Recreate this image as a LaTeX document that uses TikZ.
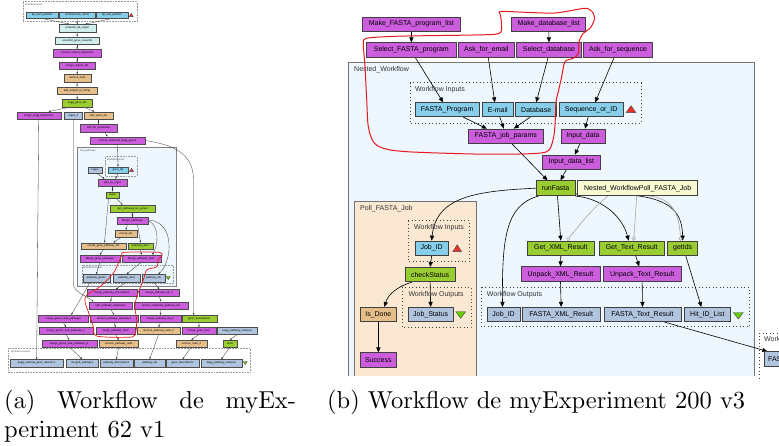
\documentclass[tikz,border=0pt]{standalone}
\usepackage{fontspec}
\usetikzlibrary{arrows.meta}
\newfontfamily\diafont{Liberation Sans}
\font\capfnt=cmr10 at 24.5pt
\definecolor{cmag}{HTML}{CC5EDE}
\definecolor{cin}{HTML}{87CEEB}
\definecolor{cout}{HTML}{B0C4DE}
\definecolor{cgreen}{HTML}{9ACD32}
\definecolor{ctan}{HTML}{E5BE8A}
\definecolor{cyel}{HTML}{FAFAD2}
\definecolor{cteal}{HTML}{D1EEEE}
\definecolor{cnest}{HTML}{EEF6FE}
\definecolor{cpoll}{HTML}{FBE8D2}
\definecolor{cred}{HTML}{E8302A}
\definecolor{ctrig}{HTML}{66CC00}
\definecolor{cpen}{HTML}{E8191C}
\pgfdeclarelayer{back}
\pgfdeclarelayer{mid}
\pgfsetlayers{back,mid,main}
\newcommand{\mkbox}[7]{\node[#1, minimum width={(#5)-(#3)}, minimum height={(#6)-(#4)}] (#2) at ({((#3)+(#5))/2},{((#4)+(#6))/2}) {#7};}
\newcommand{\uptri}[4]{\draw[fill=cred, draw=black!70, line width=0.4pt] ({#1-#3/2},{#2+#4/2}) -- ({#1+#3/2},{#2+#4/2}) -- ({#1},{#2-#4/2}) -- cycle;}
\newcommand{\dntri}[4]{\draw[fill=ctrig, draw=black!70, line width=0.4pt] ({#1-#3/2},{#2-#4/2}) -- ({#1+#3/2},{#2-#4/2}) -- ({#1},{#2+#4/2}) -- cycle;}
\begin{document}
\begin{tikzpicture}[x=1pt,y=-1pt,
  nb/.style={draw=black!75, line width=0.7pt, inner sep=0pt, font=\diafont\fontsize{7}{8}\selectfont, text=black},
  mg/.style={nb, fill=cmag}, ib/.style={nb, fill=cin}, ob/.style={nb, fill=cout},
  gb/.style={nb, fill=cgreen}, tb/.style={nb, fill=ctan}, yb/.style={nb, fill=cyel},
  sn/.style={draw=black!70, line width=0.35pt, inner sep=0pt, font=\diafont\fontsize{2.7}{3}\selectfont, text=black},
  smg/.style={sn, fill=cmag}, sib/.style={sn, fill=cin}, sob/.style={sn, fill=cout},
  sgb/.style={sn, fill=cgreen}, stb/.style={sn, fill=ctan}, steal/.style={sn, fill=cteal},
  ar/.style={-{Triangle[length=5pt,width=4.2pt]}, line width=0.6pt, black},
  sar/.style={-{Triangle[length=1.8pt,width=1.5pt]}, line width=0.3pt, black!80},
  ctl/.style={-{Circle[open,length=4pt,width=4pt]}, line width=0.6pt, black!35},
  dotb/.style={line width=0.9pt, black!75, dash pattern=on 0.9pt off 2.6pt},
  sdot/.style={line width=0.4pt, black!40, dash pattern=on 0.45pt off 1.1pt},
  lab/.style={font=\diafont\fontsize{7}{8}\selectfont, text=black!80, anchor=west, inner sep=0pt},
  slab/.style={font=\diafont\fontsize{2.4}{3}\selectfont, text=black!70, anchor=west, inner sep=0pt},
  cbord/.style={draw=black!55, line width=0.9pt},
  pen/.style={cpen, line width=1pt}]
\useasboundingbox (0,0) rectangle (779,446);

% ================= (b) containers =================
\begin{pgfonlayer}{back}
\fill[cnest] (348.3,62.3) rectangle (754,376);
\draw[cbord] (348.3,376) -- (348.3,62.3) -- (754,62.3) -- (754,376);
\fill[cpoll] (354.3,201) rectangle (476.7,376);
\draw[cbord] (354.3,376) -- (354.3,201) -- (476.7,201) -- (476.7,376);
\draw[dotb] (410,82.7) rectangle (641,123.3);
\draw[dotb] (408.3,220.7) rectangle (469.3,261.7);
\draw[dotb] (402.3,287.3) rectangle (471,327.3);
\draw[dotb] (481.7,287.3) rectangle (749,326.7);
\draw[dotb] (795,333.3) -- (759,333.3) -- (759,380);
% (a) containers
\draw[sdot] (23.3,1.7) rectangle (136.7,21.7);
\fill[cnest] (77.3,147.3) rectangle (176,286);
\draw[draw=black!50, line width=0.5pt] (77.3,147.3) rectangle (176,286);
\draw[sdot] (105,156.7) rectangle (136.7,176);
\draw[sdot] (81.7,265) rectangle (173.3,283.3);
\draw[sdot] (8.3,348.3) rectangle (250,372);
\end{pgfonlayer}

\node[lab] (lnest) at (354,69.5) {Nested\_Workflow};
\node[lab] (lwi) at (415,89.7) {Workflow Inputs};
\node[lab] (lpoll) at (360,208.3) {Poll\_FASTA\_Job};
\node[lab] (lpwi) at (414,227.3) {Workflow Inputs};
\node[lab] (lpwo) at (408.3,294.3) {Workflow Outputs};
\node[lab] (lnwo) at (486.7,294.3) {Workflow Outputs};
\node[lab] (lowo) at (764,340) {Workflow Outputs};

% ================= (b) nodes =================
\mkbox{mg}{mfpl}{362}{17.3}{460.7}{31}{Make\_FASTA\_program\_list}
\mkbox{mg}{mdl}{511.7}{17.3}{585.7}{31}{Make\_database\_list}
\mkbox{mg}{sfp}{366.7}{42.7}{456}{57.3}{Select\_FASTA\_program}
\mkbox{mg}{afe}{458.3}{42.7}{514.3}{57.3}{Ask\_for\_email}
\mkbox{mg}{sdb}{516.3}{42.7}{581.7}{57.3}{Select\_database}
\mkbox{mg}{afs}{583.3}{42.7}{652.7}{57.3}{Ask\_for\_sequence}
\mkbox{ib}{fprog}{415}{102.7}{479.3}{116.7}{FASTA\_Program}
\mkbox{ib}{email}{482.3}{102.7}{513.3}{116.7}{E-mail}
\mkbox{ib}{dbase}{515.7}{102.7}{556.7}{116.7}{Database}
\mkbox{ib}{seqid}{559}{102.7}{623.3}{116.7}{Sequence\_or\_ID}
\mkbox{mg}{fjp}{468.3}{129}{543.3}{143.3}{FASTA\_job\_params}
\mkbox{mg}{indata}{561}{129}{605}{143.3}{Input\_data}
\mkbox{mg}{idl}{542.7}{155}{600}{169.3}{Input\_data\_list}
\mkbox{gb}{rf}{536}{180.7}{575}{195.7}{runFasta}
\mkbox{yb}{nwp}{577.7}{180.7}{697.7}{195.7}{Nested\_WorkflowPoll\_FASTA\_Job}
\mkbox{ib}{jidin}{415}{241}{448.3}{255.3}{Job\_ID}
\mkbox{gb}{cs}{405.3}{267.3}{455}{281.7}{checkStatus}
\mkbox{ob}{jst}{408}{307.3}{453.3}{321.7}{Job\_Status}
\mkbox{tb}{isd}{360}{307.3}{396.7}{321.7}{Is\_Done}
\mkbox{mg}{succ}{360}{352.7}{396.7}{367.3}{Success}
\mkbox{gb}{gxml}{527.3}{241}{594.3}{255.3}{Get\_XML\_Result}
\mkbox{gb}{gtxt}{599}{241}{664.3}{255.3}{Get\_Text\_Result}
\mkbox{gb}{gids}{667.7}{241}{697.7}{255.3}{getIds}
\mkbox{mg}{uxml}{521}{266.7}{600}{281.7}{Unpack\_XML\_Result}
\mkbox{mg}{utxt}{603.3}{266.7}{681}{281.7}{Unpack\_Text\_Result}
\mkbox{ob}{jidout}{487}{307.3}{520}{321.7}{Job\_ID}
\mkbox{ob}{fxml}{522.3}{307.3}{600}{321.7}{FASTA\_XML\_Result}
\mkbox{ob}{ftxt}{604}{307.3}{681}{321.7}{FASTA\_Text\_Result}
\mkbox{ob}{hil}{684}{307.3}{730.7}{321.7}{Hit\_ID\_List}
\node[ob, anchor=west, inner xsep=3.5pt, minimum height=15pt] (fout) at (764.3,359.2) {FASTA\_Text\_Result};
\uptri{631}{109.2}{10}{7}
\uptri{457.2}{248.2}{9}{7}
\dntri{460.7}{315}{10}{6.5}
\dntri{738.3}{315.8}{10}{6.5}

% ================= (b) connectors =================
\begin{pgfonlayer}{mid}
\draw[ar] (mfpl) -- (sfp);
\draw[ar] (mdl) -- (sdb);
\draw[ar] ([xshift=4pt]sfp.south) -- ([xshift=-4pt]fprog.north);
\draw[ar] ([xshift=2pt]afe.south) -- ([xshift=-3pt]email.north);
\draw[ar] ([xshift=-1pt]sdb.south) -- (dbase.north);
\draw[ar] ([xshift=-4pt]afs.south) -- ([xshift=4pt]seqid.north);
\draw[ar] ([xshift=16pt]fprog.south) -- ([xshift=-19pt]fjp.north);
\draw[ar] ([xshift=2pt]email.south) -- ([xshift=-2pt]fjp.north);
\draw[ar] ([xshift=-6pt]dbase.south) -- ([xshift=8pt]fjp.north);
\draw[ar] ([xshift=-3pt]seqid.south) -- ([xshift=2pt]indata.north);
\draw[ar] ([xshift=-3pt]indata.south) -- ([xshift=3.5pt]idl.north);
\draw[ar] ([xshift=6pt]fjp.south) -- ([xshift=-8pt]rf.north);
\draw[ar] ([xshift=-5pt]idl.south) -- ([xshift=5pt]rf.north);
\draw[ar] (rf.west) .. controls (475,191) and (436,197) .. (jidin.north);
\draw[ar] ([xshift=3pt]rf.south west) .. controls (505,205) and (502,240) .. ([xshift=-1pt]jidout.north);
\draw[ar] ([xshift=2pt]rf.south) -- (gxml.north);
\draw[ar] (rf.south east) .. controls (600,198) and (622,215) .. ([xshift=-3pt]gtxt.north);
\draw[ar] ([yshift=2pt]rf.south east) .. controls (660,191) and (682,203) .. (gids.north);
\draw[ctl] ([xshift=-30pt]nwp.south) .. controls (590,212) .. ([xshift=6pt]gxml.north);
\draw[ctl] ([xshift=-1pt]nwp.south) -- ([xshift=2pt]gtxt.north);
\draw[ctl] ([xshift=12pt]nwp.south) .. controls (672,199) and (679,212) .. ([xshift=-2pt]gids.north);
\draw[ar] (gxml.south) -- (uxml.north);
\draw[ar] (uxml.south) -- (fxml.north);
\draw[ar] ([xshift=4pt]gtxt.south) -- ([xshift=-3pt]utxt.north);
\draw[ar] (utxt.south) -- (ftxt.north);
\draw[ar] ([xshift=3pt]gids.south) -- ([xshift=-6pt]hil.north);
\draw[ar] ([xshift=22pt]ftxt.south) -- ([xshift=3pt]fout.north west);
\draw[ar] (jidin.south) -- (cs.north);
\draw[ar] ([xshift=-18pt]cs.south) .. controls (396,287) and (388,295) .. ([xshift=6pt]isd.north);
\draw[ar] (cs.south) -- (jst.north);
\draw[ar] (isd.south) -- (succ.north);
\end{pgfonlayer}

% ================= (a) nodes =================
\node[slab] (alwi) at (25,4.6) {Workflow Inputs};
\mkbox{sib}{qsp}{26}{11.7}{58.3}{18.3}{qtl\_start\_position}
\mkbox{sib}{chr}{59.3}{11.7}{95}{18.3}{chromosome\_name}
\mkbox{sib}{qep}{96}{11.7}{127.7}{18.3}{qtl\_end\_position}
\uptri{131.2}{15}{4}{3.2}
\mkbox{steal}{eqr}{59}{24.3}{95.7}{31.7}{ensembl\_qtl\_region}
\mkbox{steal}{ege}{55}{36.7}{99.3}{44}{ensembl\_gene\_ensembl}
\mkbox{smg}{rud}{53.3}{49.3}{101}{56.7}{remove\_uniprot\_duplicates}
\mkbox{smg}{mui}{59.3}{62.3}{95}{69.3}{merge\_uniprot\_ids}
\mkbox{stb}{rmn}{64}{74.3}{90.7}{81.7}{remove\_nulls}
\mkbox{stb}{aus}{57.3}{86.7}{96.7}{94.3}{add\_uniprot\_to\_string}
\mkbox{sgb}{kgi}{62.3}{99.3}{92.3}{106.7}{kegg\_gene\_ids}
\mkbox{smg}{mkr}{16.7}{111.7}{60.7}{119.3}{merge\_kegg\_references}
\mkbox{sob}{rxb}{64.3}{111.7}{82.3}{119.3}{regex\_2}
\mkbox{stb}{sgi}{84}{111.7}{112.7}{119.3}{split\_gene\_ids}
\mkbox{smg}{sfd}{80}{124.3}{116.7}{131.7}{split\_for\_duplicates}
\mkbox{smg}{rdk}{90}{136.7}{145}{144.3}{remove\_duplicate\_kegg\_genes}
\node[slab] (algp) at (80,151) {Get\_pathways};
\node[slab] (algwi) at (107,159.4) {Workflow Inputs};
\mkbox{sob}{rgx}{88.3}{166.7}{101.7}{173.3}{regex}
\mkbox{sib}{gid}{107.7}{166.7}{128.3}{173.3}{gene\_ids}
\uptri{131.5}{170}{4}{3.2}
\mkbox{smg}{sbr}{98.3}{179}{126.7}{186}{split\_by\_regex}
\mkbox{sgb}{base}{106}{191.7}{119}{198.3}{base}
\mkbox{sgb}{gpg}{110}{205}{155}{211.7}{get\_pathways\_by\_genes}
\mkbox{smg}{mp}{116.7}{217.3}{148.3}{224.3}{Merge\_pathways}
\mkbox{stb}{ci}{115}{230}{136.7}{236.7}{concat\_ids}
\mkbox{stb}{cgp}{81}{242.7}{126}{249.3}{concat\_gene\_pathway\_ids}
\mkbox{sgb}{pd}{127.7}{242.7}{153.3}{249.3}{pathway\_desc}
\mkbox{smg}{mgp}{80}{255}{120}{262}{Merge\_gene\_pathways}
\mkbox{smg}{mpd}{121.7}{255}{161}{262}{Merge\_pathway\_desc}
\node[slab] (algwo) at (83,268) {Workflow Outputs};
\mkbox{sob}{pg}{82.7}{274.3}{110}{281.7}{pathway\_genes}
\mkbox{sob}{pdo}{113.3}{274.3}{140}{281.7}{pathway\_desc}
\mkbox{sob}{pio}{141.7}{274.3}{165}{281.7}{pathway\_ids}
\dntri{168.3}{278}{4}{3}
\mkbox{smg}{mpds}{87.3}{289.3}{136.7}{296}{merge\_pathway\_descriptions}
\mkbox{smg}{mpia}{139.3}{289.3}{179.3}{296}{merge\_pathway\_ids\_1}
\mkbox{smg}{spd}{89.3}{301.7}{131.7}{309}{split\_pathway\_duplicates}
\mkbox{smg}{rdpi}{134.3}{301.7}{187.7}{309}{remove\_duplicate\_pathway\_ids}
\mkbox{smg}{mgap}{38.3}{315}{88.3}{322.3}{merge\_genes\_and\_pathways}
\mkbox{smg}{rpd}{90}{315}{138.3}{322.3}{remove\_pathway\_duplicates}
\mkbox{smg}{mpib}{140}{315}{180.7}{322.3}{merge\_pathway\_ids\_2}
\mkbox{sgb}{gd}{181.7}{315}{216.7}{321.7}{gene\_descriptions}
\mkbox{smg}{mgapb}{39.3}{327.3}{92.7}{334.3}{merge\_genes\_and\_pathways\_2}
\mkbox{smg}{mpdesc}{96}{327.3}{135}{334.3}{merge\_pathway\_desc}
\mkbox{stb}{rpnb}{137.3}{327.3}{180}{334.3}{remove\_pathway\_nulls\_2}
\mkbox{smg}{mgd}{181.7}{327.3}{216}{334.3}{merge\_gene\_desc}
\mkbox{sob}{kpr}{217.3}{327.3}{257.3}{334.3}{kegg\_pathway\_releases}
\mkbox{smg}{mgapc}{41.7}{340}{96.7}{346.7}{merge\_genes\_and\_pathways\_3}
\mkbox{stb}{rpn}{99.3}{340}{138.3}{346.7}{remove\_pathway\_nulls}
\mkbox{stb}{rnc}{176}{340}{206.7}{346.7}{remove\_nulls\_3}
\mkbox{sgb}{tools}{223.3}{340}{236.7}{346.7}{tools}
\node[slab] (alwo) at (11,352.3) {Workflow Outputs};
\mkbox{sob}{oa}{10}{359.3}{63.3}{366.7}{kegg\_external\_gene\_reference}
\mkbox{sob}{ob}{66}{359.3}{98.3}{366.7}{merged\_pathways}
\mkbox{sob}{oc}{100}{359.3}{132.7}{366.7}{pathway\_descriptions}
\mkbox{sob}{od}{134.3}{359.3}{165}{366.7}{pathway\_ids}
\mkbox{sob}{oe}{166}{359.3}{199.3}{366.7}{gene\_descriptions}
\mkbox{sob}{of}{201}{359.3}{241.7}{366.7}{kegg\_pathway\_releases}
\dntri{245.3}{363}{4}{3}

% ================= (a) connectors =================
\begin{pgfonlayer}{mid}
\draw[sar] (qsp.south) -- ([xshift=-8pt]eqr.north);
\draw[sar] (chr.south) -- (eqr.north);
\draw[sar] (qep.south) -- ([xshift=8pt]eqr.north);
\draw[sar] (eqr.south) -- (ege.north);
\draw[sar] (ege.south) -- (rud.north);
\draw[sar] (rud.south) -- (mui.north);
\draw[sar] (mui.south) -- (rmn.north);
\draw[sar] (rmn.south) -- (aus.north);
\draw[sar] (aus.south) -- (kgi.north);
\draw[sar] ([xshift=-6pt]kgi.south) -- ([xshift=10pt]mkr.north);
\draw[sar] ([xshift=6pt]kgi.south) -- ([xshift=-4pt]sgi.north);
\draw[sar] (sgi.south) -- (sfd.north);
\draw[sar] ([xshift=6pt]sfd.south) -- ([xshift=-10pt]rdk.north);
\draw[sar] (rdk.south) -- (gid.north);
\draw[sar] (rdk.east) .. controls (176,145) and (193.5,155) .. (193.5,180) -- ([xshift=-5.7pt]gd.north);
\draw[sar] (mkr.south) -- (oa.north);
\draw[sar] (rxb.south) -- (73.3,283) .. controls (73.3,292) and (85,295) .. ([xshift=-17pt]spd.north);
\draw[sar] ([xshift=2pt]rgx.south) -- ([xshift=-8pt]sbr.north);
\draw[sar] (gid.south) -- ([xshift=3pt]sbr.north);
\draw[sar] (sbr.south) -- (base.north);
\draw[sar] ([xshift=4pt]base.south) -- ([xshift=-10pt]gpg.north);
\draw[sar] ([xshift=-4pt]base.south) -- ([xshift=1pt]cgp.north);
\draw[sar] (gpg.south) -- (mp.north);
\draw[sar] ([xshift=-5pt]mp.south) -- (ci.north);
\draw[sar] ([xshift=5pt]mp.south) -- (pd.north);
\draw[sar] (mp.east) .. controls (160,226) and (158,245) .. ([xshift=11pt]mpd.north);
\draw[sar] ([yshift=1pt]mp.east) .. controls (176,222) and (172,262) .. ([xshift=5pt]pio.north);
\draw[sar] ([xshift=-4pt]ci.south) -- ([xshift=10pt]cgp.north);
\draw[sar] (cgp.south) -- (mgp.north);
\draw[sar] (pd.south) -- (mpd.north);
\draw[sar] (mgp.south) -- (pg.north);
\draw[sar] (mpd.south) -- (pdo.north);
\draw[sar] ([xshift=-6pt]pg.south) -- ([xshift=8pt]mgap.north);
\draw[sar] (pdo.south) -- ([xshift=4pt]mpds.north);
\draw[sar] (pio.south) -- (mpia.north);
\draw[sar] (mpds.south) -- (spd.north);
\draw[sar] (spd.south) -- (rpd.north);
\draw[sar] (rpd.south) -- (mpdesc.north);
\draw[sar] (mpdesc.south) -- (rpn.north);
\draw[sar] (rpn.south) -- (oc.north);
\draw[sar] (mpia.south) -- (rdpi.north);
\draw[sar] (rdpi.south) -- (mpib.north);
\draw[sar] (mpib.south) -- (rpnb.north);
\draw[sar] (rpnb.south) -- (od.north);
\draw[sar] (mgap.south) -- (mgapb.north);
\draw[sar] (mgapb.south) -- (mgapc.north);
\draw[sar] (mgapc.south) -- (ob.north);
\draw[sar] (gd.south) -- (mgd.north);
\draw[sar] (mgd.south) -- (rnc.north);
\draw[sar] (rnc.south) -- (oe.north);
\draw[sar] (kpr.south) -- (tools.north);
\draw[sar] (tools.south) -- (of.north);
\end{pgfonlayer}

% ================= red hand-drawn outlines =================
\draw[pen] plot[smooth cycle, tension=0.5] coordinates {(501,11.5) (530,12.5) (555,13) (578,9.3) (587,8.3) (593.3,13.3) (594.3,20) (590,28.3) (583.3,33.3) (579,41.7) (578.3,53.3) (573.3,58.3) (565,61.7) (561.7,76.7) (558.3,91.7) (556,102) (555,125) (553,140) (546.7,151.7) (520,154) (473.3,154) (406.7,151.7) (383.3,148.3) (373.3,141.7) (368.3,126.7) (366.7,100) (365,66.7) (363.3,43.3) (366,38.5) (380,37) (406.7,36) (473.3,35) (499,33.5) (501.5,25) (500.5,15)};
\draw[pen, line width=0.7pt] plot[smooth cycle, tension=0.5] coordinates {(123,252.5) (140,252) (160,252.5) (162,256) (158.3,259) (156.7,266.7) (146.7,270) (143.3,280) (136.7,296.7) (135,308.3) (136.7,320) (135,335) (126.7,337.3) (96.7,336) (93.3,326.7) (88.3,311.7) (85,301.7) (86.7,295) (100,286.7) (113.3,273.3) (118.3,263.3) (121.7,255)};

% ================= captions =================
\node[anchor=base west, inner sep=0pt] (capa) at (4,408) {\hbox to 292pt{\capfnt (a)\hfill Workflow\hfill de\hfill myEx-}};
\node[anchor=base west, inner sep=0pt] (capb) at (4,437) {\capfnt periment 62 v1};
\node[anchor=base west, inner sep=0pt] (capc) at (327,408) {\capfnt (b) Workflow de myExperiment 200 v3};
\end{tikzpicture}
\end{document}
